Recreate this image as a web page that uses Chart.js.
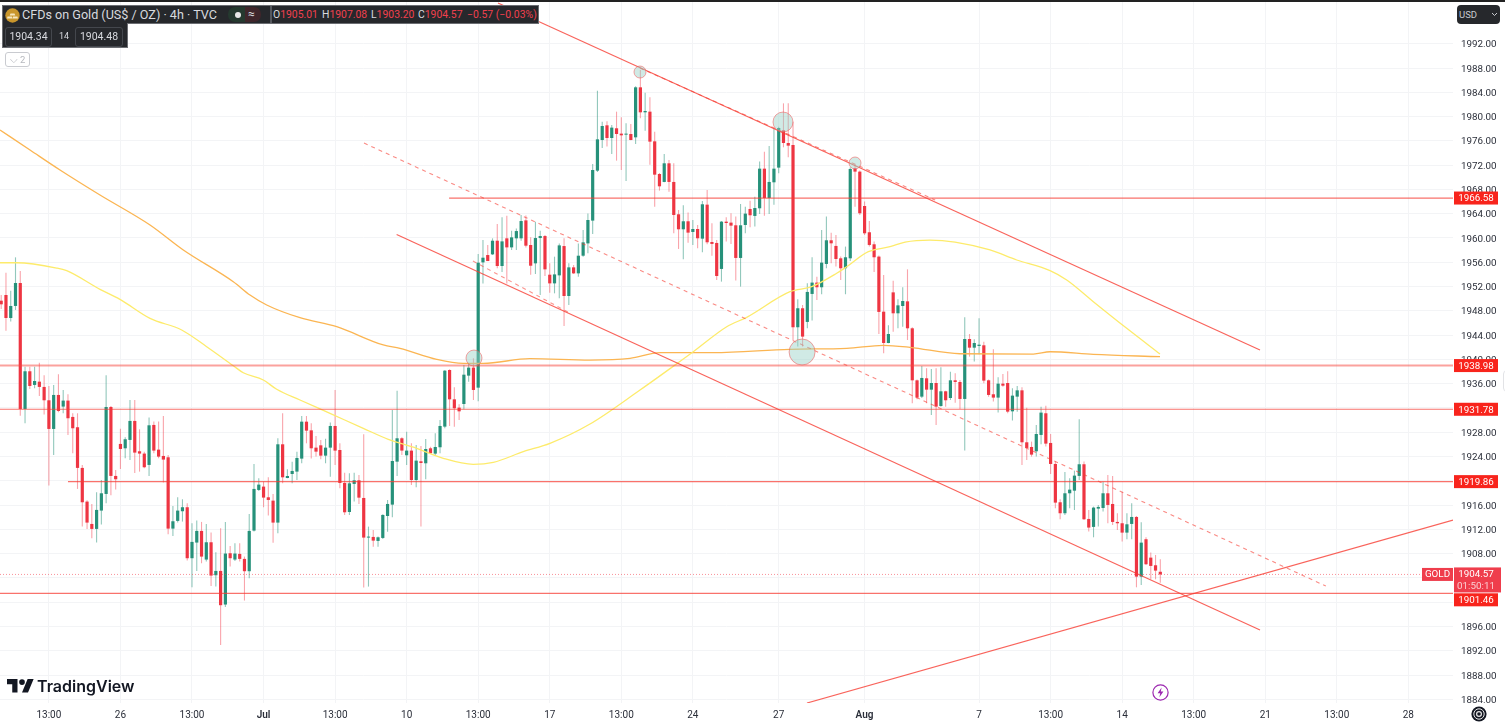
<!DOCTYPE html>
<html>
<head>
<meta charset="utf-8">
<script src="https://cdn.jsdelivr.net/npm/chart.js@4"></script>
<style>
html,body{margin:0;padding:0;background:#fff;overflow:hidden;width:1505px;height:725px}
#wrap{position:relative;width:1505px;height:725px;font-family:Roboto,sans-serif}
canvas{position:absolute;left:0;top:0}
.o{position:absolute;white-space:nowrap}
.r{color:#f0404e}
</style>
</head>
<body>
<div id="wrap">
<canvas id="c" width="1505" height="725" style="width:1505px;height:725px"></canvas>
<div class="o" style="left:0;top:0;width:1505px;height:2px;background:#222"></div>
<div class="o" style="left:2px;top:23px;width:124px;height:24px;background:#26282c;border:1px solid #6b6d72;border-top:none"></div>
<div class="o" style="left:2px;top:5px;width:535px;height:17px;background:#26282c;border:1px solid #6b6d72"></div>
<div class="o" style="left:3px;top:22px;width:124px;height:2px;background:#26282c"></div>
<svg class="o" style="left:5px;top:8px" width="15" height="15" viewBox="0 0 15 15"><circle cx="7.5" cy="7.5" r="7.2" fill="#c9962c"/><path d="M5.5 5.5h4l.8 2H4.7zM2.5 8.5h4.4l.5 2H2zM8 8.5h4.4l.6 2H7.6z" fill="#f6e7c0"/></svg>
<div class="o" style="left:22px;top:7px;font-size:12.6px;line-height:16px;color:#d8dadf">CFDs on Gold (US$ / OZ) · 4h · TVC</div>
<div class="o" style="left:228px;top:7px;width:17px;height:15px;background:#25392f;border-radius:7px 0 0 7px"></div>
<div class="o" style="left:245px;top:7px;width:16px;height:15px;background:#3f262b;border-radius:0 7px 7px 0"></div>
<div class="o" style="left:234.5px;top:12px;width:6px;height:6px;border-radius:3px;background:#e8e8e8"></div>
<div class="o" style="left:248px;top:6px;font-size:12px;line-height:16px;color:#d8dadf">≈</div>
<div class="o" style="left:270px;top:6px;width:2px;height:17px;background:#55585e"></div>
<div class="o" style="left:273px;top:8px;font-size:10.4px;line-height:14px;color:#d8dadf">O<span class="r">1905.01</span></div>
<div class="o" style="left:322px;top:8px;font-size:10.4px;line-height:14px;color:#d8dadf">H<span class="r">1907.08</span></div>
<div class="o" style="left:371px;top:8px;font-size:10.4px;line-height:14px;color:#d8dadf">L<span class="r">1903.20</span></div>
<div class="o" style="left:418px;top:8px;font-size:10.4px;line-height:14px;color:#d8dadf">C<span class="r">1904.57</span></div>
<div class="o r" style="left:467px;top:8px;font-size:10.4px;line-height:14px">−0.57 (−0.03%)</div>
<div class="o" style="left:5px;top:27px;width:45px;height:18px;border:1px solid #44474d;border-radius:3px;font-size:10.5px;line-height:18px;text-align:center;color:#d8dadf">1904.34</div>
<div class="o" style="left:59px;top:29px;font-size:9px;line-height:14px;color:#d8dadf">14</div>
<div class="o" style="left:75px;top:27px;width:46px;height:18px;border:1px solid #44474d;border-radius:3px;font-size:10.5px;line-height:18px;text-align:center;color:#d8dadf">1904.48</div>
<div class="o" style="left:5px;top:52px;width:23px;height:13px;border:1px solid #c9cbd0;border-radius:3px;font-size:9.5px;line-height:13px;text-align:center;color:#b6b8be">⌵ 2</div>
<div class="o" style="left:1457px;top:5px;width:43px;height:19px;background:#26282c;border-radius:4px"></div>
<div class="o" style="left:1459px;top:8px;font-size:9.5px;line-height:13px;color:#c8cacf">USD</div>
<svg class="o" style="left:1491px;top:12px" width="7" height="5" viewBox="0 0 7 5"><path d="M1 1l2.5 2.5L6 1" fill="none" stroke="#c8cacf" stroke-width="1"/></svg>
<svg class="o" style="left:7px;top:679px" width="27" height="14" viewBox="0 0 36 18.5"><path d="M14 18H7V7H0V0h14v18zM28 18h-8L27.5 0h8L28 18z" fill="#131722"/><circle cx="20" cy="4" r="3.8" fill="#131722"/></svg>
<div class="o" style="left:37px;top:675px;font-family:Inter,sans-serif;font-weight:600;font-size:16px;line-height:22px;color:#131722">TradingView</div>
<svg class="o" style="left:1152px;top:684px" width="17" height="17" viewBox="0 0 17 17"><circle cx="8.5" cy="8.5" r="7.6" fill="#fff" stroke="#9c27b0" stroke-width="1.2"/><path d="M9.6 3.6L5.6 9.3h2.6l-.8 4 4-5.8H8.8z" fill="#9c27b0"/></svg>
<svg class="o" style="left:1471px;top:706px" width="16" height="16" viewBox="0 0 16 16"><circle cx="8" cy="8" r="7.6" fill="#131722"/><circle cx="8" cy="8" r="5.2" fill="none" stroke="#e8e8e8" stroke-width="1"/><circle cx="8" cy="8" r="2.4" fill="none" stroke="#e8e8e8" stroke-width="1.2"/></svg>
<div class="o" style="left:1503px;top:370px;width:6px;height:20px;border:1px solid #e2e3e6;border-radius:8px"></div>
</div>
<script>
// Candle values, oldest first (USD per ounce, 4h bars)
const opens = [
1949.67,1950.61,1946.82,1948.80,1952.58,1931.83,1938.04,1935.79,1936.33,1935.46,
1933.26,1928.54,1934.14,1932.22,1933.21,1930.52,1928.82,1922.12,1916.57,1912.89,
1912.07,1915.09,1917.83,1932.16,1920.80,1926.07,1925.35,1926.73,1929.86,1924.86,
1924.48,1922.61,1929.20,1925.13,1924.09,1923.87,1912.12,1913.39,1914.98,1915.64,
1907.24,1909.82,1911.74,1907.02,1909.87,1904.44,1905.15,1899.61,1908.06,1907.02,
1907.95,1907.13,1905.10,1911.79,1918.49,1919.04,1917.28,1916.73,1913.11,1926.01,
1920.46,1921.12,1921.51,1923.65,1929.74,1928.31,1925.46,1925.84,1924.14,1925.46,
1929.03,1925.07,1919.64,1914.86,1919.48,1920.08,1917.17,1910.64,1910.75,1910.09,
1910.58,1914.20,1916.07,1923.15,1927.00,1924.20,1924.97,1920.13,1923.21,1922.88,
1925.35,1924.47,1925.52,1928.92,1938.25,1933.42,1932.05,1932.65,1937.32,1938.64,
1935.34,1955.98,1957.19,1957.30,1959.55,1955.38,1959.94,1958.45,1959.94,1959.94,
1962.90,1958.84,1955.82,1959.99,1960.32,1953.95,1952.52,1953.84,1958.67,1950.44,
1955.16,1954.17,1957.08,1959.11,1962.86,1971.09,1976.14,1978.56,1976.47,1978.07,
1977.19,1977.02,1977.13,1976.58,1984.82,1980.70,1980.81,1975.92,1970.54,1969.23,
1972.30,1969.23,1963.90,1961.43,1962.75,1960.99,1961.48,1959.89,1965.49,1959.34,
1959.18,1954.90,1962.69,1962.53,1962.09,1956.71,1962.14,1964.78,1963.63,1964.89,
1971.42,1966.59,1969.17,1971.59,1977.74,1975.65,1975.32,1945.29,1948.42,1946.17,
1950.78,1952.65,1951.88,1955.72,1959.62,1958.69,1956.65,1955.01,1956.65,1971.48,
1970.93,1965.27,1960.94,1958.96,1956.93,1947.86,1942.70,1951.04,1947.59,1948.79,
1949.56,1945.12,1936.55,1933.86,1936.88,1935.01,1936.11,1932.32,1934.74,1933.64,
1936.55,1936.28,1933.48,1943.36,1941.93,1942.21,1942.32,1936.55,1934.25,1933.70,
1936.00,1936.11,1931.44,1933.86,1934.90,1926.34,1925.57,1924.86,1927.55,1931.12,
1926.23,1922.77,1916.46,1914.65,1917.94,1918.37,1920.80,1922.72,1913.71,1912.40,
1915.41,1915.52,1917.94,1916.18,1913.22,1913.00,1911.46,1912.89,1914.04,1904.21,
1910.37,1907.34,1906.08,1905.01];
const closes = [
1949.07,1946.82,1948.80,1952.58,1931.83,1938.04,1935.62,1936.44,1935.46,1933.26,
1928.54,1934.14,1931.50,1933.21,1930.30,1928.65,1922.12,1916.46,1913.11,1912.07,
1915.20,1917.94,1932.16,1920.80,1920.25,1925.24,1926.84,1929.86,1924.64,1924.48,
1922.23,1929.14,1924.97,1923.98,1923.49,1912.12,1913.33,1915.09,1915.64,1907.24,
1909.93,1911.74,1907.51,1909.87,1904.38,1905.15,1899.50,1908.01,1907.24,1908.01,
1907.13,1905.10,1911.74,1918.66,1919.37,1917.23,1916.84,1913.11,1926.01,1920.57,
1920.79,1921.62,1923.76,1929.74,1928.26,1925.35,1924.80,1924.14,1925.46,1929.03,
1924.97,1919.64,1914.81,1919.58,1920.08,1917.22,1910.64,1910.75,1910.14,1910.69,
1914.37,1916.18,1923.26,1927.00,1924.97,1924.97,1920.13,1923.32,1922.93,1925.24,
1924.53,1925.57,1929.03,1938.14,1933.42,1931.94,1931.44,1937.48,1938.64,1934.96,
1955.93,1956.75,1956.20,1959.55,1955.38,1959.44,1958.45,1960.10,1961.14,1962.79,
1958.73,1955.43,1959.99,1960.32,1954.83,1952.52,1954.00,1958.78,1950.44,1955.16,
1954.17,1957.08,1959.28,1962.96,1971.20,1976.25,1978.45,1976.47,1978.18,1977.13,
1976.91,1977.19,1976.14,1984.82,1980.70,1980.92,1975.87,1970.43,1968.51,1972.30,
1969.23,1963.79,1961.43,1962.75,1960.88,1961.48,1959.95,1965.55,1959.29,1959.02,
1953.74,1962.69,1962.47,1962.03,1956.71,1962.09,1964.01,1963.74,1964.94,1971.42,
1966.59,1969.23,1971.42,1978.12,1975.65,1975.21,1945.29,1948.42,1943.75,1951.11,
1952.65,1951.88,1955.94,1959.62,1959.12,1956.54,1955.01,1956.82,1971.37,1970.93,
1964.07,1960.77,1958.85,1956.82,1947.82,1942.70,1944.18,1947.59,1948.90,1949.62,
1945.12,1936.55,1933.70,1936.94,1935.01,1936.11,1932.21,1934.74,1933.26,1936.55,
1936.28,1933.48,1943.36,1941.93,1942.70,1942.42,1936.50,1934.14,1933.70,1936.00,
1935.67,1931.39,1934.03,1934.90,1926.34,1925.41,1924.31,1927.71,1931.23,1926.12,
1922.77,1916.40,1914.65,1917.94,1918.54,1920.85,1922.72,1913.66,1912.29,1915.58,
1915.69,1917.94,1916.02,1913.22,1913.00,1911.46,1912.83,1914.04,1904.21,1909.81,
1906.25,1905.97,1905.20,1904.57];
const highs = [
1950.61,1954.29,1951.32,1956.81,1954.56,1938.80,1938.80,1938.80,1939.46,1937.38,
1935.62,1935.79,1937.54,1934.96,1934.25,1931.12,1931.12,1922.61,1916.80,1916.19,
1918.11,1920.14,1937.38,1932.30,1921.79,1928.59,1927.17,1933.32,1933.32,1928.48,
1924.80,1930.41,1929.75,1929.75,1930.68,1924.26,1915.86,1917.28,1916.95,1916.30,
1913.00,1913.44,1913.22,1912.89,1911.46,1908.23,1912.18,1913.22,1909.27,1909.71,
1909.71,1907.51,1914.54,1922.77,1920.41,1919.86,1920.58,1917.83,1927.00,1931.11,
1921.89,1923.15,1924.80,1930.67,1930.67,1929.47,1927.38,1926.72,1926.94,1929.58,
1934.96,1926.17,1921.34,1921.23,1921.34,1920.96,1927.66,1912.45,1911.90,1910.80,
1914.50,1916.84,1931.66,1934.85,1927.16,1928.09,1926.17,1925.90,1925.73,1926.89,
1925.60,1927.82,1930.02,1938.25,1938.36,1935.40,1932.60,1939.07,1939.35,1940.17,
1957.36,1959.66,1958.84,1959.94,1962.30,1963.40,1963.67,1961.20,1961.58,1963.78,
1963.72,1960.10,1962.68,1961.20,1960.50,1955.82,1956.92,1959.10,1959.94,1955.82,
1955.55,1959.11,1961.31,1964.05,1972.19,1984.27,1979.16,1979.22,1978.61,1980.81,
1979.88,1978.89,1978.78,1985.00,1987.67,1983.94,1983.17,1977.52,1970.70,1973.84,
1972.85,1972.30,1964.61,1965.38,1964.18,1962.97,1962.14,1966.10,1967.91,1962.42,
1959.67,1962.80,1963.41,1964.07,1963.52,1965.60,1965.16,1966.15,1966.81,1972.58,
1974.22,1975.16,1978.07,1978.34,1982.18,1982.18,1979.16,1949.90,1948.97,1952.54,
1956.82,1953.63,1961.32,1963.52,1960.88,1960.50,1956.93,1958.58,1971.64,1972.19,
1971.10,1965.99,1962.80,1959.40,1957.10,1953.90,1945.61,1952.97,1949.89,1951.87,
1954.83,1945.30,1936.70,1938.91,1938.53,1938.42,1938.53,1938.69,1934.85,1937.98,
1937.70,1936.60,1946.93,1944.18,1943.30,1946.76,1942.92,1936.70,1941.66,1937.05,
1937.59,1938.03,1935.23,1935.62,1935.40,1932.05,1926.45,1929.19,1932.21,1932.38,
1927.71,1923.16,1916.95,1921.45,1920.41,1921.67,1930.13,1923.16,1915.19,1915.74,
1916.02,1919.86,1920.96,1920.79,1914.65,1918.21,1914.65,1916.29,1914.20,1913.16,
1910.70,1908.17,1907.78,1907.08];
const lows = [
1948.30,1944.73,1946.22,1948.14,1930.73,1929.47,1935.13,1935.24,1933.97,1930.90,
1919.21,1924.26,1931.30,1931.12,1927.55,1924.53,1918.66,1912.45,1912.07,1910.53,
1909.82,1912.78,1916.30,1917.61,1918.55,1921.95,1923.71,1923.43,1921.29,1921.51,
1922.06,1920.80,1924.53,1923.71,1919.70,1911.19,1910.92,1913.11,1913.28,1906.85,
1902.46,1905.15,1906.41,1906.69,1902.68,1902.57,1892.96,1899.22,1905.86,1906.80,
1906.69,1900.27,1903.94,1911.63,1918.30,1915.64,1914.26,1909.81,1911.35,1919.58,
1920.40,1919.58,1920.13,1922.88,1926.17,1923.65,1923.98,1923.54,1922.88,1920.68,
1922.60,1918.76,1914.37,1914.37,1916.57,1916.18,1902.40,1902.57,1909.15,1909.15,
1910.40,1911.62,1913.99,1920.79,1924.25,1922.60,1919.31,1918.93,1912.45,1920.25,
1924.42,1924.25,1924.53,1928.64,1929.03,1928.92,1930.02,1931.77,1936.33,1933.31,
1933.09,1952.52,1956.20,1957.19,1955.00,1954.39,1952.52,1958.01,1958.01,1959.55,
1958.45,1953.95,1954.06,1950.60,1953.73,1950.99,1950.88,1950.05,1945.50,1948.96,
1954.06,1953.62,1956.92,1957.47,1960.66,1970.87,1974.83,1975.05,1973.84,1972.74,
1971.20,1969.39,1976.10,1975.48,1979.71,1977.68,1972.08,1965.16,1967.80,1969.20,
1967.63,1960.77,1958.19,1956.49,1959.23,1958.85,1958.30,1957.64,1958.96,1957.09,
1953.09,1952.81,1959.40,1959.02,1952.98,1951.99,1960.77,1961.76,1961.87,1963.96,
1963.68,1963.96,1965.49,1970.65,1974.94,1973.29,1943.20,1942.11,1942.11,1945.13,
1946.39,1949.79,1950.73,1955.01,1955.83,1955.28,1953.09,1950.73,1956.21,1965.16,
1963.79,1960.50,1958.58,1954.40,1944.19,1941.00,1942.65,1944.57,1945.12,1945.39,
1943.19,1932.76,1933.42,1933.64,1932.76,1930.84,1929.19,1932.21,1932.21,1933.31,
1932.87,1931.83,1924.97,1940.45,1939.63,1940.83,1936.06,1933.86,1933.04,1931.23,
1935.51,1931.12,1929.91,1931.39,1922.61,1923.43,1923.98,1923.98,1926.01,1925.63,
1921.12,1915.47,1913.66,1914.37,1915.47,1915.19,1920.14,1913.55,1911.63,1910.69,
1912.45,1914.92,1913.00,1912.72,1911.90,1909.98,1910.37,1910.37,1902.45,1902.84,
1906.14,1903.77,1903.77,1903.20];

// Moving averages: bar position, price
const yellowBars = [-0.25,3.25,11.63,13.73,20.71,24.9,31.2,37.84,43.08,48.66,50.75,54.95,57.76,62.64,68.93,75.91,81.15,87.1,92.68,98.97,103.17,109.45,115.05,123.44,133.92,142.7,145.09,152.1,156.29,165.37,169.92,175.16,177.26,181.79,186.34,189.5,194.7,199.96,207.3,212.9,219.88,223.38,228.96,235.96,242.93];
const yellowVals = [1955.92,1955.92,1955.05,1954.61,1951.54,1949.89,1946.76,1944.84,1942.09,1938.96,1937.80,1936.60,1935.07,1933.31,1931.11,1928.64,1926.83,1925.35,1923.70,1922.71,1923.04,1924.79,1926.17,1929.35,1934.95,1939.89,1941.26,1945.38,1946.93,1951.15,1951.97,1954.18,1955.27,1957.74,1958.56,1959.33,1959.66,1959.33,1958.02,1956.37,1954.61,1953.07,1949.50,1945.11,1940.88];
const orangeBars = [-0.25,6.04,12.33,20.71,31.2,38.18,48.66,52.16,55.66,62.64,70.34,80.1,83.6,91.3,96.88,101.07,110.86,123.44,131.83,138.12,149.29,165.37,177.26,184.93,190.53,201.01,216.38,219.88,228.96,242.93];
const orangeVals = [1977.79,1974.49,1971.20,1967.08,1962.14,1958.02,1952.79,1950.60,1948.96,1946.86,1945.38,1942.37,1941.82,1940.01,1939.35,1939.35,1940.11,1939.89,1940.17,1941.10,1941.10,1941.66,1941.82,1942.32,1941.99,1940.93,1940.88,1941.26,1940.83,1940.44];

// Drawn trend lines: [bar, price, bar, price]
const channelUpper = [104.15,1998.71,263.9,1941.54];
const channelLower = [82.9,1960.57,263.9,1895.41];
const channelMid = [76.06,1975.64,277.7,1902.66];
const shortDash = [98.9,1956.20,118.8,1947.80];
const upperDash = [133.9,1988.0,195.8,1966.25];
const risingLine = [168.93,1883.39,304.36,1913.53];

// Horizontal levels and where each begins
const levelPrices = [1966.58,1938.98,1931.78,1919.86,1901.46];
const levelStarts = [93.9,-0.25,-0.25,14,-0.25];
const lastPrice = 1904.57;
const countdown = "01:50:11";
const symbolTag = "GOLD";

// Touch markers
const markerBars = [133.92,163.9,179,99.12,167.9];
const markerVals = [1987.34,1979.10,1972.35,1940.22,1941.21];

// Axes
const yTicks = [1884,1888,1892,1896,1900,1904,1908,1912,1916,1920,1924,1928,1932,1936,1940,1944,1948,1952,1956,1960,1964,1968,1972,1976,1980,1984,1988,1992];
const xTickBars = [10,25,40,55,70,85,100,115,130,145,163,181,205,220,235,250,265,280,295];
const xTickLabels = ["13:00","26","13:00","Jul","13:00","10","13:00","17","13:00","24","27","Aug","7","13:00","14","13:00","21","13:00","28"];

const FIRST = -0.25, LAST = 304.36, YMIN = 1883.39, YMAX = 1999.04;
const UP = '#26917a', DOWN = '#ee3542', UPW = 'rgba(38,145,122,.5)', DOWNW = 'rgba(242,54,69,.45)';
const LINE = 'rgba(247,60,50,.8)';
const FONT = 'Roboto, sans-serif';

const idx = opens.map((_, i) => i);
const isUp = idx.map(i => closes[i] >= opens[i]);
const seg = (a, w, dash, col) => ({type:'line', order:1, data:[{x:a[0],y:a[1]},{x:a[2],y:a[3]}], borderColor:col||LINE, borderWidth:w, borderDash:dash||[], pointRadius:0, tension:0});
const pairs = (xs, ys) => xs.map((x, i) => ({x, y:ys[i]}));

const datasets = [
  {type:'bar', order:6, grouped:false, barThickness:1.1, data:idx.map(i => ({x:i, y:[lows[i], highs[i]]})), backgroundColor:idx.map(i => isUp[i] ? UPW : DOWNW), borderWidth:0, inflateAmount:0},
  {type:'bar', order:5, grouped:false, barThickness:3.2, minBarLength:1, data:idx.map(i => ({x:i, y:[opens[i], closes[i]]})), backgroundColor:idx.map(i => isUp[i] ? UP : DOWN), borderWidth:0, inflateAmount:0},
  {type:'line', order:3, data:pairs(yellowBars, yellowVals), borderColor:'#fdeb6b', borderWidth:1.3, pointRadius:0, cubicInterpolationMode:'monotone'},
  {type:'line', order:3, data:pairs(orangeBars, orangeVals), borderColor:'#fbb552', borderWidth:1.3, pointRadius:0, cubicInterpolationMode:'monotone'},
  seg(channelUpper, 1.2),
  seg(channelLower, 1.2),
  seg(channelMid, 1.1, [4,4], 'rgba(247,60,50,.6)'),
  seg(shortDash, 1.1, [4,4], 'rgba(247,60,50,.55)'),
  seg(upperDash, 1.1, [4,4], 'rgba(247,60,50,.6)'),
  seg(risingLine, 1.2),
  {type:'line', order:2, data:[{x:FIRST,y:lastPrice},{x:LAST,y:lastPrice}], borderColor:'rgba(242,54,69,.55)', borderWidth:1, borderDash:[1,2], pointRadius:0},
  ...levelPrices.map((p, k) => ({type:'line', order:1, data:[{x:levelStarts[k],y:p},{x:LAST,y:p}], borderColor:p===1938.98?'rgba(247,70,60,.5)':'rgba(247,60,50,.72)', borderWidth:p===1938.98?2:1.2, pointRadius:0})),
  {type:'scatter', order:0, data:pairs(markerBars, markerVals), backgroundColor:'rgba(150,209,197,.45)', borderColor:'rgba(240,90,90,.55)', borderWidth:1, pointRadius:[6,10,6,8,13], pointHoverRadius:[6,10,6,8,13]}
];

const axisTags = {
  id:'axisTags',
  afterDraw(chart) {
    const c = chart.ctx, ys = chart.scales.y, L = 1454;
    c.save();
    c.textBaseline = 'middle';
    c.textAlign = 'center';
    levelPrices.forEach(p => {
      const mid = ys.getPixelForValue(p) + (p === 1901.46 ? 6.5 : 0);
      c.fillStyle = '#f8241c';
      c.fillRect(L, mid - 6.5, 44, 13);
      c.fillStyle = '#fff';
      c.font = '9.8px ' + FONT;
      c.fillText(p.toFixed(2), L + 22, mid + 1);
    });
    const t = ys.getPixelForValue(lastPrice) - 6.5;
    c.fillStyle = '#ef3d4c';
    c.fillRect(L, t - 0.5, 47, 25);
    c.fillRect(1422, t, 31, 13);
    c.fillStyle = '#fff';
    c.font = '9.8px ' + FONT;
    c.fillText(lastPrice.toFixed(2), L + 22, t + 7);
    c.fillText(symbolTag, 1437.5, t + 7);
    c.fillStyle = 'rgba(255,255,255,.75)';
    c.fillText(countdown, L + 22, t + 18.5);
    c.restore();
  }
};

new Chart(document.getElementById('c'), {
  type:'bar',
  data:{datasets},
  plugins:[axisTags],
  options:{
    responsive:false, animation:false, devicePixelRatio:1,
    layout:{autoPadding:false, padding:{top:1,left:0,right:0,bottom:0}},
    plugins:{legend:{display:false}, tooltip:{enabled:false}},
    events:[],
    scales:{
      x:{
        type:'linear', min:FIRST, max:LAST, offset:false,
        grid:{color:'#f3f4f6', lineWidth:1, drawTicks:false, offset:false},
        border:{display:false},
        afterBuildTicks:s => { s.ticks = xTickBars.map(v => ({value:v})); },
        afterFit:s => { s.height = 22; s.paddingLeft = 0; s.paddingRight = 0; },
        ticks:{
          autoSkip:false, maxRotation:0, padding:6, color:'#2a2e39',
          font:ctx => {
            const n = ctx.tick ? xTickLabels[xTickBars.indexOf(ctx.tick.value)] : '';
            return {family:FONT, size:10, weight:(n==='Jul'||n==='Aug')?'600':'400'};
          },
          callback:v => xTickLabels[xTickBars.indexOf(v)]
        }
      },
      y:{
        type:'linear', position:'right', min:YMIN, max:YMAX,
        grid:{color:'#f3f4f6', lineWidth:1, drawTicks:false},
        border:{display:false},
        afterBuildTicks:s => { s.ticks = yTicks.map(v => ({value:v})); },
        afterFit:s => { s.width = 52; s.paddingTop = 0; s.paddingBottom = 0; },
        ticks:{padding:8, labelOffset:1.2, color:'#2a2e39', font:{family:FONT, size:9.8}, callback:v => v.toFixed(2), autoSkip:false}
      }
    }
  }
});
</script>
</body>
</html>
